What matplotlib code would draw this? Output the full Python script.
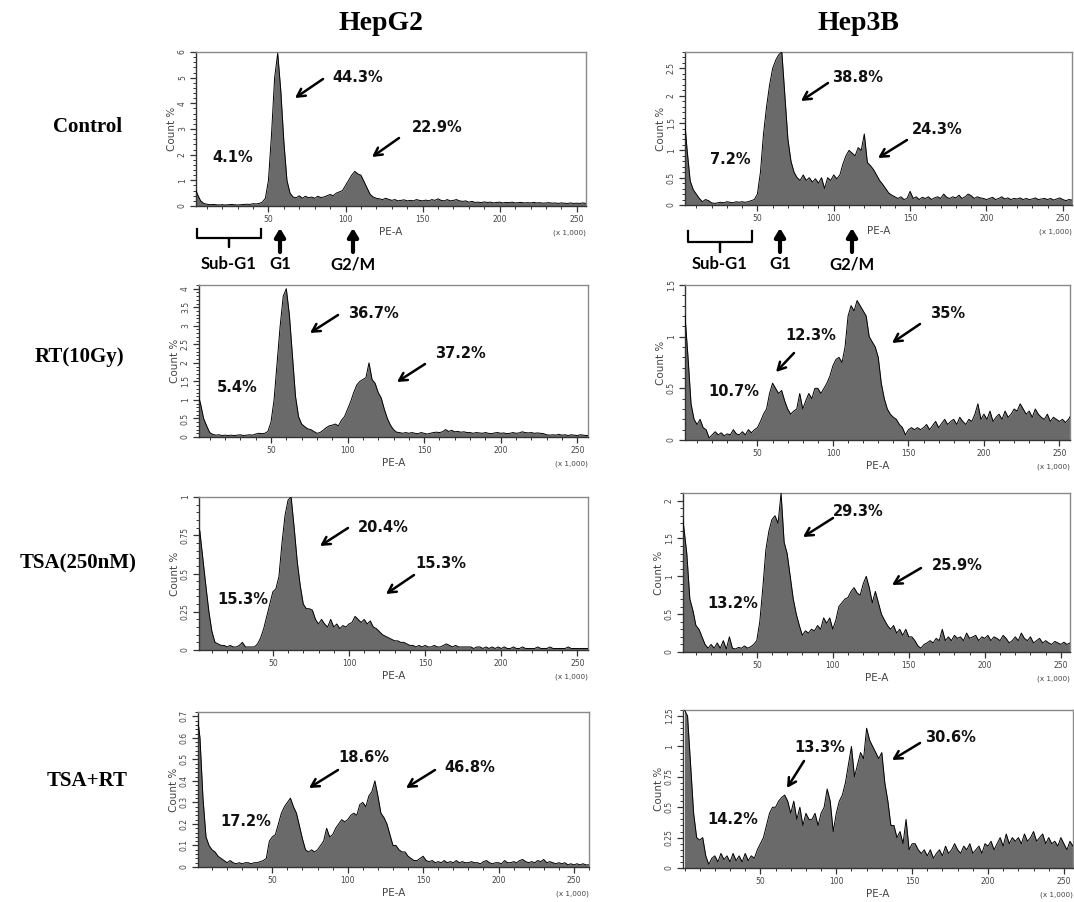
import numpy as np
import matplotlib
matplotlib.use("Agg")
import matplotlib.pyplot as plt
from matplotlib.ticker import MultipleLocator

# ---------------- data (Count % per 2k-wide PE-A bin, bins at 0,2,...,262 x1000) -------------
BIN_WIDTH = 2
G2_CTRL = [3.3, 0.75, 0.45, 0.2, 0.1, 0.07, 0.05, 0.06, 0.05, 0.04,
           0.05, 0.04, 0.05, 0.06, 0.05, 0.04, 0.05, 0.06, 0.07, 0.06,
           0.09, 0.08, 0.1, 0.15, 0.3, 1.0, 2.8, 5.0, 5.95, 4.5,
           2.5, 1.0, 0.5, 0.35, 0.32, 0.4, 0.3, 0.38, 0.32, 0.35,
           0.3, 0.38, 0.33, 0.35, 0.4, 0.45, 0.4, 0.5, 0.55, 0.6,
           0.8, 1.0, 1.2, 1.35, 1.25, 1.2, 0.95, 0.7, 0.45, 0.35,
           0.3, 0.28, 0.25, 0.3, 0.26, 0.22, 0.25, 0.2, 0.22, 0.24,
           0.2, 0.22, 0.2, 0.25, 0.22, 0.2, 0.23, 0.2, 0.25, 0.22,
           0.28, 0.22, 0.2, 0.25, 0.2, 0.22, 0.25, 0.2, 0.18, 0.2,
           0.15, 0.18, 0.14, 0.15, 0.13, 0.16, 0.14, 0.15, 0.12, 0.14,
           0.15, 0.12, 0.14, 0.13, 0.15, 0.12, 0.13, 0.14, 0.12, 0.13,
           0.12, 0.14, 0.12, 0.13, 0.11, 0.12, 0.13, 0.11, 0.12, 0.1,
           0.12, 0.11, 0.1, 0.12, 0.1, 0.11, 0.1, 0.12, 0.1, 0.11,
           0.1, 0.1]
B3_CTRL = [2.4, 1.65, 1.0, 0.44, 0.28, 0.2, 0.12, 0.06, 0.1, 0.08,
           0.04, 0.03, 0.04, 0.05, 0.04, 0.06, 0.05, 0.04, 0.06, 0.05,
           0.06, 0.05, 0.06, 0.08, 0.1, 0.2, 0.6, 1.3, 1.8, 2.2,
           2.5, 2.65, 2.75, 2.8, 2.0, 1.2, 0.8, 0.6, 0.5, 0.45,
           0.55, 0.45, 0.5, 0.42, 0.48, 0.4, 0.5, 0.3, 0.5, 0.45,
           0.55, 0.48, 0.55, 0.75, 0.9, 1.0, 0.95, 0.9, 1.05, 1.0,
           1.3, 0.78, 0.72, 0.65, 0.55, 0.45, 0.38, 0.3, 0.22, 0.18,
           0.15, 0.12, 0.15, 0.1, 0.12, 0.25, 0.12, 0.15, 0.1, 0.14,
           0.12, 0.15, 0.1, 0.13, 0.15, 0.12, 0.2, 0.14, 0.12, 0.15,
           0.13, 0.18, 0.12, 0.15, 0.2, 0.17, 0.12, 0.15, 0.13, 0.12,
           0.1, 0.12, 0.14, 0.1, 0.12, 0.15, 0.11, 0.13, 0.1, 0.12,
           0.11, 0.13, 0.1, 0.12, 0.1, 0.11, 0.13, 0.1, 0.11, 0.12,
           0.1, 0.12, 0.09, 0.11, 0.13, 0.1, 0.08, 0.1, 0.09, 0.06,
           0.1, 0.12]
G2_RT = [2.7, 1.2, 0.9, 0.5, 0.3, 0.12, 0.07, 0.05, 0.06, 0.04,
         0.05, 0.04, 0.05, 0.04, 0.05, 0.06, 0.04, 0.05, 0.06, 0.05,
         0.08, 0.1, 0.09, 0.1, 0.15, 0.4, 1.0, 2.0, 3.0, 3.8,
         4.0, 3.3, 2.2, 1.1, 0.55, 0.35, 0.28, 0.22, 0.2, 0.15,
         0.1, 0.12, 0.18, 0.25, 0.3, 0.32, 0.35, 0.3, 0.45, 0.55,
         0.75, 0.95, 1.2, 1.4, 1.5, 1.55, 1.6, 2.0, 1.55, 1.45,
         1.2, 1.05, 0.75, 0.5, 0.32, 0.2, 0.13, 0.12, 0.1, 0.12,
         0.1, 0.12, 0.1, 0.09, 0.12, 0.1, 0.08, 0.1, 0.12, 0.13,
         0.12, 0.14, 0.2, 0.15, 0.18, 0.14, 0.15, 0.13, 0.14, 0.12,
         0.12, 0.1, 0.12, 0.11, 0.1, 0.12, 0.1, 0.09, 0.11, 0.12,
         0.1, 0.11, 0.09, 0.1, 0.12, 0.1, 0.11, 0.14, 0.12, 0.11,
         0.12, 0.1, 0.11, 0.1, 0.09, 0.06, 0.05, 0.06, 0.05, 0.07,
         0.05, 0.06, 0.04, 0.06, 0.05, 0.04, 0.06, 0.05, 0.04, 0.05,
         0.05, 0.05]
B3_RT = [1.35, 1.2, 0.8, 0.35, 0.2, 0.15, 0.2, 0.12, 0.1, 0.02,
         0.05, 0.08, 0.05, 0.07, 0.04, 0.06, 0.05, 0.1, 0.06, 0.05,
         0.08, 0.05, 0.1, 0.07, 0.1, 0.12, 0.18, 0.25, 0.3, 0.45,
         0.55, 0.5, 0.45, 0.48, 0.38, 0.3, 0.25, 0.28, 0.3, 0.45,
         0.3, 0.38, 0.45, 0.4, 0.5, 0.5, 0.45, 0.5, 0.55, 0.62,
         0.72, 0.78, 0.8, 0.75, 0.9, 1.2, 1.3, 1.25, 1.35, 1.3,
         1.25, 1.2, 1.0, 0.95, 0.9, 0.8, 0.55, 0.4, 0.3, 0.25,
         0.22, 0.2, 0.15, 0.12, 0.05, 0.1, 0.12, 0.1, 0.12, 0.1,
         0.12, 0.15, 0.1, 0.14, 0.18, 0.12, 0.16, 0.2, 0.15, 0.18,
         0.2, 0.15, 0.22, 0.18, 0.15, 0.2, 0.18, 0.25, 0.35, 0.2,
         0.25, 0.2, 0.28, 0.18, 0.22, 0.25, 0.2, 0.28, 0.22, 0.25,
         0.3, 0.28, 0.35, 0.3, 0.25, 0.28, 0.22, 0.3, 0.25, 0.22,
         0.2, 0.25, 0.18, 0.22, 0.2, 0.18, 0.2, 0.17, 0.2, 0.25,
         0.1, 0.08]
G2_TSA = [0.8, 0.78, 0.6, 0.42, 0.25, 0.12, 0.05, 0.04, 0.03, 0.03,
          0.02, 0.03, 0.02, 0.02, 0.03, 0.05, 0.02, 0.02, 0.02, 0.02,
          0.04, 0.08, 0.14, 0.22, 0.3, 0.38, 0.4, 0.48, 0.7, 0.88,
          0.98, 1.0, 0.8, 0.58, 0.42, 0.3, 0.27, 0.27, 0.26, 0.2,
          0.17, 0.2, 0.17, 0.15, 0.2, 0.15, 0.17, 0.14, 0.16, 0.15,
          0.17, 0.18, 0.22, 0.2, 0.18, 0.2, 0.17, 0.19, 0.15, 0.14,
          0.12, 0.1, 0.09, 0.08, 0.07, 0.06, 0.06, 0.05, 0.05, 0.04,
          0.03, 0.03, 0.02, 0.03, 0.02, 0.03, 0.02, 0.02, 0.03, 0.02,
          0.02, 0.03, 0.04, 0.03, 0.02, 0.03, 0.02, 0.02, 0.02, 0.02,
          0.02, 0.01, 0.02, 0.02, 0.01, 0.02, 0.01, 0.02, 0.01, 0.02,
          0.01, 0.02, 0.01, 0.01, 0.02, 0.01, 0.01, 0.02, 0.01, 0.01,
          0.01, 0.01, 0.02, 0.01, 0.01, 0.01, 0.02, 0.01, 0.01, 0.01,
          0.01, 0.01, 0.02, 0.01, 0.01, 0.01, 0.01, 0.01, 0.01, 0.01,
          0.01, 0.01]
B3_TSA = [2.0, 1.65, 1.3, 0.7, 0.55, 0.35, 0.3, 0.2, 0.1, 0.05,
          0.1, 0.05, 0.12, 0.05, 0.15, 0.04, 0.2, 0.05, 0.04, 0.06,
          0.05, 0.08, 0.05, 0.07, 0.1, 0.15, 0.4, 0.85, 1.35, 1.6,
          1.75, 1.8, 1.7, 2.1, 1.45, 1.3, 1.0, 0.7, 0.5, 0.35,
          0.22, 0.28, 0.25, 0.3, 0.28, 0.35, 0.3, 0.45, 0.38, 0.45,
          0.3, 0.42, 0.6, 0.65, 0.7, 0.72, 0.8, 0.85, 0.78, 0.75,
          0.9, 1.0, 0.85, 0.65, 0.8, 0.65, 0.5, 0.42, 0.35, 0.3,
          0.35, 0.25, 0.3, 0.22, 0.3, 0.2, 0.2, 0.15, 0.08, 0.05,
          0.1, 0.12, 0.15, 0.12, 0.18, 0.15, 0.3, 0.15, 0.2, 0.15,
          0.22, 0.18, 0.2, 0.15, 0.25, 0.18, 0.2, 0.22, 0.15, 0.2,
          0.18, 0.22, 0.15, 0.2, 0.18, 0.15, 0.22, 0.18, 0.12, 0.15,
          0.2, 0.15, 0.25, 0.18, 0.15, 0.2, 0.12, 0.15, 0.18, 0.12,
          0.15, 0.12, 0.1, 0.14, 0.12, 0.1, 0.13, 0.1, 0.12, 0.05,
          0.1, 0.12]
G2_TSART = [0.72, 0.6, 0.32, 0.14, 0.1, 0.08, 0.07, 0.05, 0.04, 0.03,
            0.02, 0.03, 0.02, 0.015, 0.02, 0.015, 0.02, 0.02, 0.015, 0.02,
            0.02, 0.025, 0.03, 0.04, 0.12, 0.14, 0.15, 0.2, 0.25, 0.28,
            0.3, 0.32, 0.28, 0.25, 0.19, 0.13, 0.08, 0.07, 0.08, 0.07,
            0.08, 0.1, 0.12, 0.18, 0.14, 0.15, 0.18, 0.2, 0.22, 0.21,
            0.22, 0.24, 0.25, 0.24, 0.29, 0.3, 0.28, 0.33, 0.35, 0.4,
            0.33, 0.25, 0.23, 0.2, 0.15, 0.1, 0.1, 0.08, 0.07, 0.07,
            0.05, 0.04, 0.03, 0.03, 0.04, 0.05, 0.03, 0.025, 0.03, 0.02,
            0.025, 0.02, 0.03, 0.02, 0.025, 0.02, 0.03, 0.02, 0.025, 0.02,
            0.02, 0.025, 0.02, 0.02, 0.015, 0.025, 0.03, 0.02, 0.015, 0.02,
            0.02, 0.015, 0.03, 0.02, 0.02, 0.025, 0.02, 0.03, 0.035, 0.025,
            0.02, 0.025, 0.02, 0.03, 0.025, 0.035, 0.02, 0.025, 0.02, 0.015,
            0.02, 0.015, 0.02, 0.01, 0.015, 0.01, 0.015, 0.01, 0.015, 0.01,
            0.01, 0.01]
B3_TSART = [1.3, 1.25, 0.85, 0.45, 0.25, 0.23, 0.25, 0.1, 0.03, 0.08,
            0.1, 0.05, 0.12, 0.07, 0.1, 0.05, 0.12, 0.06, 0.1, 0.05,
            0.12, 0.06, 0.1, 0.08, 0.15, 0.2, 0.25, 0.35, 0.45, 0.5,
            0.5, 0.55, 0.58, 0.6, 0.55, 0.45, 0.55, 0.4, 0.5, 0.35,
            0.45, 0.4, 0.4, 0.45, 0.35, 0.45, 0.5, 0.65, 0.55, 0.3,
            0.45, 0.55, 0.6, 0.7, 0.85, 1.0, 0.75, 0.85, 0.95, 0.9,
            1.15, 1.05, 1.0, 0.95, 0.9, 0.95, 0.7, 0.55, 0.35, 0.35,
            0.25, 0.3, 0.2, 0.4, 0.15, 0.2, 0.2, 0.15, 0.12, 0.15,
            0.1, 0.15, 0.08, 0.12, 0.15, 0.1, 0.18, 0.12, 0.15, 0.2,
            0.15, 0.12, 0.18, 0.15, 0.2, 0.12, 0.15, 0.18, 0.12, 0.2,
            0.18, 0.22, 0.15, 0.2, 0.25, 0.18, 0.28, 0.2, 0.25, 0.22,
            0.25, 0.2, 0.28, 0.22, 0.25, 0.3, 0.22, 0.25, 0.28, 0.2,
            0.25, 0.2, 0.22, 0.18, 0.25, 0.2, 0.15, 0.22, 0.18, 0.15,
            0.2, 0.15]

COL_TITLES = ["HepG2", "Hep3B"]
ROW_TITLES = ["Control", "RT(10Gy)", "TSA(250nM)", "TSA+RT"]
PCT_LABELS = [["4.1%", "44.3%", "22.9%"], ["7.2%", "38.8%", "24.3%"],
              ["5.4%", "36.7%", "37.2%"], ["10.7%", "12.3%", "35%"],
              ["15.3%", "20.4%", "15.3%"], ["13.2%", "29.3%", "25.9%"],
              ["17.2%", "18.6%", "46.8%"], ["14.2%", "13.3%", "30.6%"]]
PHASE_LABELS = ["Sub-G1", "G1", "G2/M"]
X_TICKS = [50, 100, 150, 200, 250]

# ---------------- layout / style -------------
W, H = 1074, 902
SERIES = [G2_CTRL, B3_CTRL, G2_RT, B3_RT, G2_TSA, B3_TSA, G2_TSART, B3_TSART]
# axes boxes in pixel coords (left, top, right, bottom)
BOXES = [(196, 52, 586, 206), (685, 52, 1072, 205),
         (199, 285, 588, 437), (685, 285, 1070, 440),
         (199, 497, 588, 650), (683, 493, 1070, 652),
         (198, 712, 589, 867), (683, 710, 1073, 868)]
XLIMS = [(3, 256), (2.6, 256), (3, 257), (2, 257), (1.5, 257), (1.5, 256), (0.7, 260), (-1, 256)]
YLIMS = [6.0, 2.8, 4.1, 1.5, 1.0, 2.1, 0.72, 1.3]
YMAJ = [1, 0.5, 0.5, 0.5, 0.25, 0.5, 0.1, 0.25]
YMIN = [0.2, 0.1, 0.1, 0.1, 0.05, 0.1, 0.02, 0.05]

FILL = "#6a6a6a"

fig = plt.figure(figsize=(W / 100, H / 100), dpi=100)
fig.patch.set_facecolor("white")

x = np.arange(len(G2_CTRL)) * BIN_WIDTH

def fmt(v, pos):
    return ("%.2f" % v).rstrip("0").rstrip(".")

for i, (vals, box) in enumerate(zip(SERIES, BOXES)):
    l, t, r, b = box
    ax = fig.add_axes([l / W, 1 - b / H, (r - l) / W, (b - t) / H])
    y = np.array(vals)
    ax.fill_between(x, 0, y, color=FILL, lw=0, zorder=2)
    ax.plot(x, y, color="black", lw=0.7, zorder=3)
    ax.set_xlim(*XLIMS[i])
    ax.set_ylim(0, YLIMS[i])
    ax.set_xticks(X_TICKS)
    ax.xaxis.set_minor_locator(MultipleLocator(10))
    ax.yaxis.set_major_locator(MultipleLocator(YMAJ[i]))
    ax.yaxis.set_minor_locator(MultipleLocator(YMIN[i]))
    ax.yaxis.set_major_formatter(plt.FuncFormatter(fmt))
    ax.tick_params(axis="both", which="major", direction="out", length=4.5, width=0.9,
                   colors="#333333", labelsize=5.5, labelcolor="#444444", pad=2)
    ax.tick_params(axis="both", which="minor", direction="out", length=2.5, width=0.7,
                   colors="#333333")
    for lab in ax.get_yticklabels():
        lab.set_rotation(90)
        lab.set_va("center")
    ax.set_xlabel("PE-A", fontsize=7.5, color="#444444", labelpad=2)
    ax.set_ylabel("Count %", fontsize=7.5, color="#444444", labelpad=1)
    ax.annotate("(x 1,000)", xy=(1, 0), xycoords="axes fraction", xytext=(0, -17),
                textcoords="offset points", ha="right", va="top", fontsize=5.2,
                color="#444444", annotation_clip=False)
    for side in ["top", "right"]:
        ax.spines[side].set_color("#8a8a8a")
        ax.spines[side].set_linewidth(1.0)
    for side in ["left", "bottom"]:
        ax.spines[side].set_color("#333333")
        ax.spines[side].set_linewidth(1.0)

# ---------------- overlay for titles, labels and arrows -------------
ov = fig.add_axes([0, 0, 1, 1], zorder=10)
ov.set_xlim(0, W)
ov.set_ylim(H, 0)
ov.axis("off")
ov.patch.set_alpha(0)

serif = dict(family="Liberation Serif", weight="bold")
ov.text(381, 23, COL_TITLES[0], ha="center", va="center", fontsize=20, **serif)
ov.text(858, 23, COL_TITLES[1], ha="center", va="center", fontsize=20, **serif)
for (px, py), s in zip([(88, 127), (79, 357), (78, 563), (87, 781)], ROW_TITLES):
    ov.text(px, py, s, ha="center", va="center", fontsize=15, **serif)

PCT_POS = [[(233, 158), (358, 77), (437, 127)],
           [(730, 160), (858, 78), (937, 129)],
           [(237, 387), (373, 313), (460, 353)],
           [(734, 391), (811, 335), (948, 313)],
           [(243, 599), (383, 527), (441, 564)],
           [(733, 604), (858, 512), (957, 565)],
           [(246, 822), (364, 758), (470, 768)],
           [(733, 820), (820, 748), (950, 738)]]
ARROWS = [[((323, 79), (295, 98)), ((399, 138), (372, 157))],
          [((828, 83), (801, 101)), ((907, 140), (878, 158))],
          [((338, 315), (310, 333)), ((425, 364), (397, 382))],
          [((794, 353), (776, 372)), ((920, 324), (892, 343))],
          [((348, 528), (320, 546)), ((414, 575), (386, 594))],
          [((833, 518), (803, 537)), ((921, 568), (892, 585))],
          [((338, 770), (309, 788)), ((435, 770), (406, 788))],
          [((804, 761), (787, 788)), ((920, 743), (892, 760))]]

for labels, poss, arrs in zip(PCT_LABELS, PCT_POS, ARROWS):
    for s, (px, py) in zip(labels, poss):
        ov.text(px, py, s, ha="center", va="center", fontsize=10.5,
                family="DejaVu Sans", weight="bold", color="#111111")
    for (p0, p1) in arrs:
        ov.annotate("", xy=p1, xytext=p0,
                    arrowprops=dict(arrowstyle="->,head_length=0.55,head_width=0.3",
                                    lw=1.8, color="black", shrinkA=0, shrinkB=0))

phase_font = dict(family="Lato", weight="bold", fontsize=12)
for (bl, br, btop, bbot, btick, g1x, g2x) in [(197, 261, 229, 238, 247, 280, 353),
                                             (688, 752, 231, 242, 252, 780, 852)]:
    bc = (bl + br) / 2
    ov.plot([bl, bl, bc, bc, bc, br, br], [btop, bbot, bbot, btick, bbot, bbot, btop],
            color="black", lw=1.6, solid_joinstyle="round")
    ov.text(bc, 264, PHASE_LABELS[0], ha="center", va="center", **phase_font)
    for gx, s in [(g1x, PHASE_LABELS[1]), (g2x, PHASE_LABELS[2])]:
        ov.annotate("", xy=(gx, 228), xytext=(gx, 252),
                    arrowprops=dict(arrowstyle="-|>,head_length=0.5,head_width=0.3",
                                    lw=3, color="black", shrinkA=0, shrinkB=0))
        ov.text(gx, 264, s, ha="center", va="center", **phase_font)

fig.savefig("out.png", dpi=100, facecolor="white")
